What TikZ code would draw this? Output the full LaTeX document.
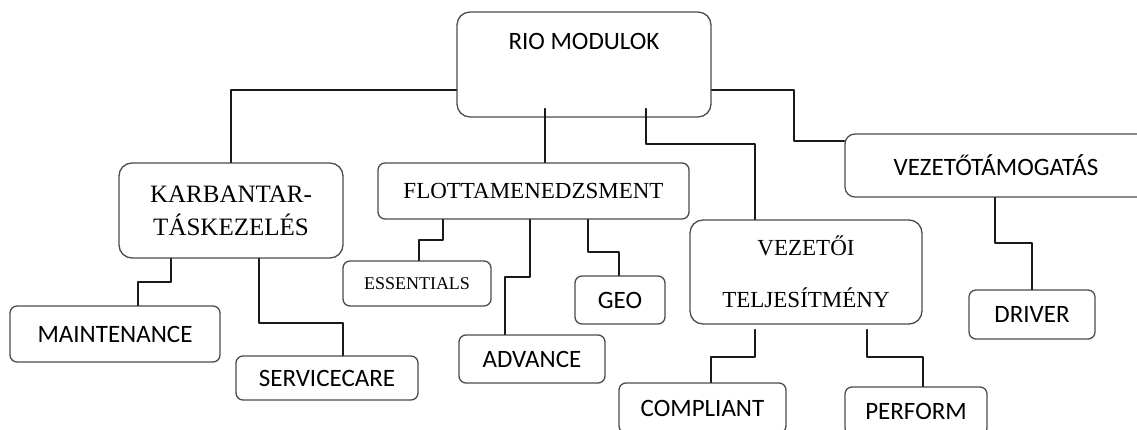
\documentclass[tikz,border=0pt]{standalone}
\usepackage{fontspec}
\setmainfont{Liberation Serif}
\newfontfamily\calibri{Carlito}
\usepackage{tikz}

\begin{document}
\begin{tikzpicture}[x=1pt, y=-1pt, line cap=round, line join=round,
		box/.style={draw=black!70, line width=1.3pt, rounded corners=7pt, inner sep=0pt, align=center},
		bigbox/.style={box, rounded corners=13pt},
		sanstxt/.style={font=\calibri\fontsize{25}{30}\selectfont},
		seriftxt/.style={font=\fontsize{23}{28}\selectfont},
		link/.style={draw=black!90, line width=1.3pt}]
		\useasboundingbox (0,0) rectangle (1137,430);
		\clip (0,0) rectangle (1137,430);
		\node[bigbox, minimum width=254pt, minimum height=105pt] (rio) at (584,64.5) {};
		\node[sanstxt, inner sep=0pt] (riotxt) at (584,41) {RIO MODULOK};
		\node[bigbox, minimum width=224pt, minimum height=95pt, font=\fontsize{25}{33}\selectfont] (karb) at (231,210.5) {KARBANTAR-\\TÁSKEZELÉS};
		\node[box, seriftxt, minimum width=311pt, minimum height=56pt] (flotta) at (533.5,191) {FLOTTAMENEDZSMENT};
		\node[box, sanstxt, rounded corners=10pt, minimum width=302pt, minimum height=63pt] (vt) at (996,165.5) {VEZETŐTÁMOGATÁS};
		\node[bigbox, minimum width=232pt, minimum height=104pt, font=\fontsize{23}{52}\selectfont] (vez) at (806,272) {VEZETŐI\\TELJESÍTMÉNY};
		\node[box, sanstxt, minimum width=210pt, minimum height=56pt] (maint) at (115,334) {MAINTENANCE};
		\node[box, sanstxt, minimum width=182pt, minimum height=44pt] (serv) at (327,378) {SERVICECARE};
		\node[box, font=\fontsize{18}{22}\selectfont, minimum width=148pt, minimum height=45pt] (ess) at (417,283.5) {ESSENTIALS};
		\node[box, sanstxt, minimum width=146pt, minimum height=48pt] (adv) at (532,359) {ADVANCE};
		\node[box, sanstxt, minimum width=90pt, minimum height=48pt] (geo) at (620,300) {GEO};
		\node[box, sanstxt, minimum width=126pt, minimum height=49pt] (driver) at (1032,314.5) {DRIVER};
		\node[box, sanstxt, minimum width=167pt, minimum height=50pt] (compl) at (702.5,408) {COMPLIANT};
		\node[box, sanstxt, minimum width=142pt, minimum height=48pt] (perf) at (916,411) {PERFORM};
		\draw[link] (rio.west |- 0,90) -| (karb.north);
		\draw[link] ([yshift=9pt]rio.south -| 545,0) -- (flotta.north -| 545,0);
		\draw[link] ([yshift=9pt]rio.south -| 646,0) |- (755,144) -- (vez.north -| 755,0);
		\draw[link] (rio.east |- 0,90) -| (794,141) -- (vt.west |- 0,141);
		\draw[link] (vt.south -| 995,0) -- (995,243) -| (driver.north);
		\draw[link] (karb.south -| 171,0) |- (138,282) -- (maint.north -| 138,0);
		\draw[link] (karb.south -| 259,0) |- (343,323) -- (serv.north -| 343,0);
		\draw[link] (flotta.south -| 443,0) |- (419,240) -- (ess.north -| 419,0);
		\draw[link] (flotta.south -| 530,0) |- (505,277) -- (adv.north -| 505,0);
		\draw[link] (flotta.south -| 588,0) |- (619,252) -- (geo.north -| 619,0);
		\draw[link] ([yshift=-5pt]vez.south -| 755,0) |- (711,357) -- (compl.north -| 711,0);
		\draw[link] ([yshift=-5pt]vez.south -| 867,0) |- (923,357) -- (perf.north -| 923,0);
	\end{tikzpicture}
\end{document}
